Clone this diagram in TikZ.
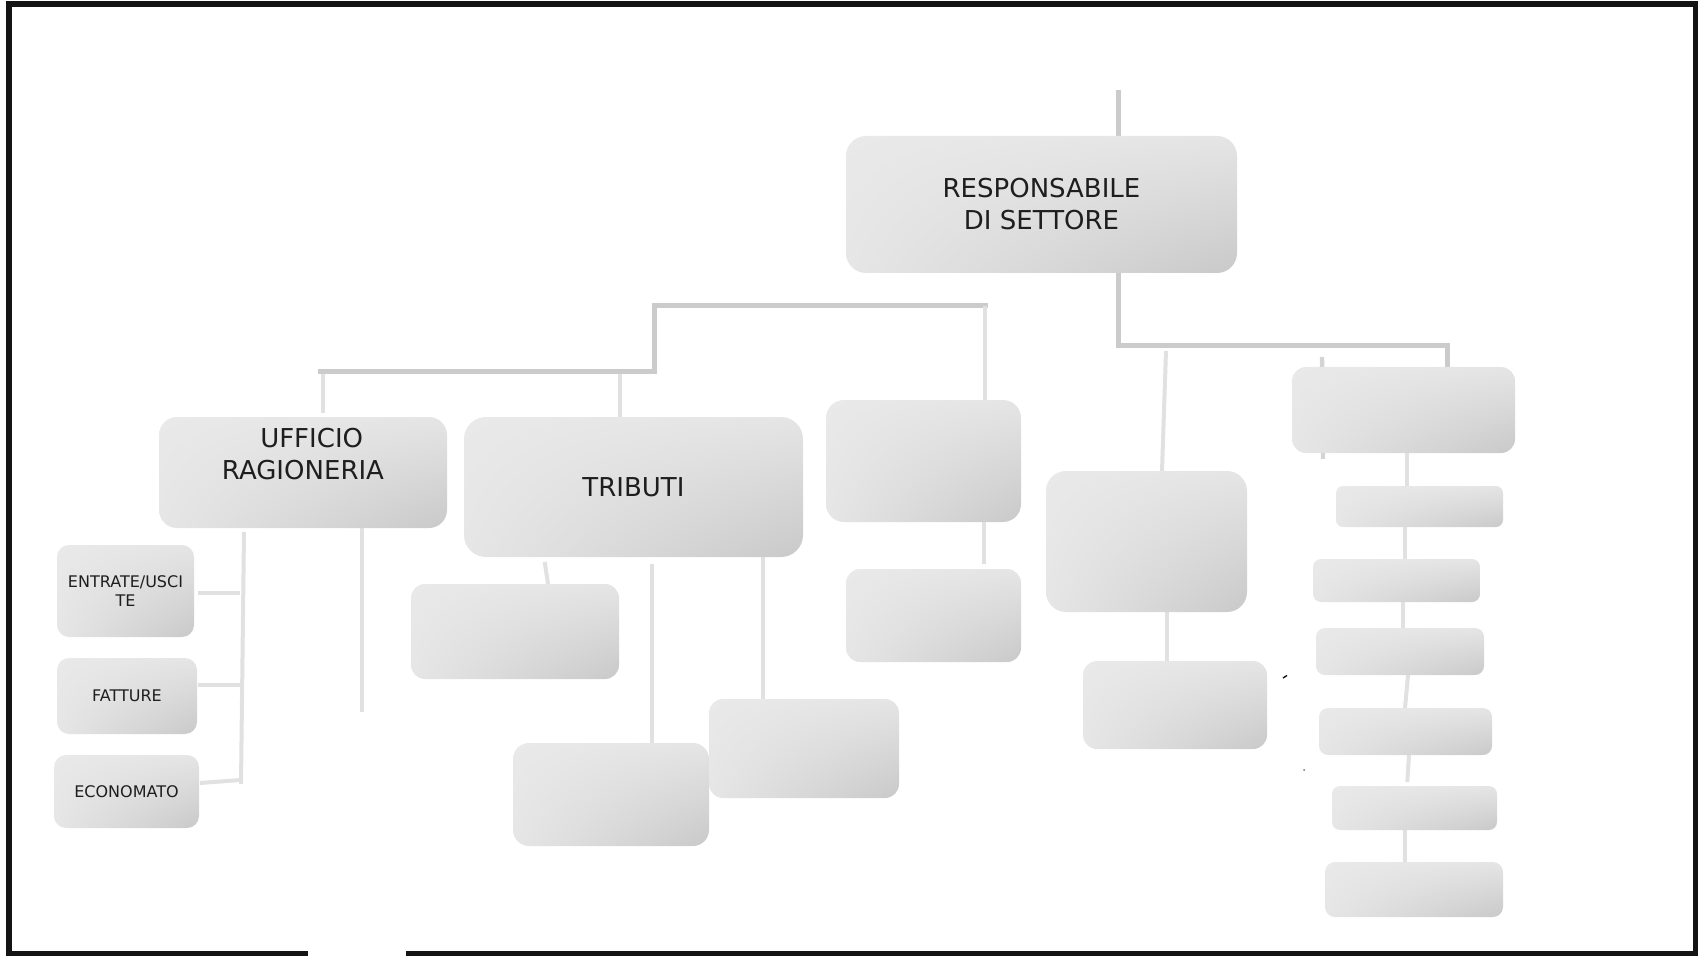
\documentclass[tikz,border=0pt]{standalone}
\usepackage{fontspec}
\setmainfont{DejaVu Sans}
\usetikzlibrary{shadings}

% palette
\definecolor{boxUL}{HTML}{E9E9E9}
\definecolor{boxUR}{HTML}{E5E5E5}
\definecolor{boxLL}{HTML}{E6E6E6}
\definecolor{boxLR}{HTML}{C9C9C9}
\definecolor{trunkgray}{HTML}{CBCBCB}
\definecolor{twiggray}{HTML}{E1E1E1}
\definecolor{seamgray}{HTML}{D4D4D4}
\definecolor{inkgray}{HTML}{1E1E1E}
\definecolor{framebk}{HTML}{141414}

\pgfdeclarelayer{links}
\pgfsetlayers{links,main}

\begin{document}
\begin{tikzpicture}[x=0.5pt, y=-0.5pt,
  panel/.style={shade, upper left=boxUL, upper right=boxUR,
    lower left=boxLL, lower right=boxLR, anchor=north west,
    inner sep=0pt, outer sep=0pt, rounded corners=#1,
    text=inkgray, align=center},
  sized/.style 2 args={minimum width=#1, minimum height=#2},
  big/.style={font=\fontsize{13}{16}\selectfont},
  small/.style={font=\fontsize{8}{9.4}\selectfont},
  trunk/.style={draw=trunkgray, line width=2.5pt},
  twig/.style={draw=twiggray, line width=2pt},
  seam/.style={draw=seamgray, line width=2.2pt},
  frame/.style={draw=framebk, line width=2.8pt},
  speckle/.style={draw=framebk, line width=0.7pt},
]
\useasboundingbox (0,0) rectangle (1698,957);

% ---------- outer frame, open at the bottom left ----------
\coordinate (fgapL) at (308,953.5);
\coordinate (fgapR) at (406,953.5);
\draw[frame] (fgapL) -- (8.7,953.5) -- (8.7,3.9) -- (1695.9,3.9)
  -- (1695.9,953.5) -- (fgapR);

% ---------- boxes ----------
\node[panel=10pt, sized={195.5pt}{68.5pt}, big] (resp) at (846,136) {RESPONSABILE\\DI SETTORE};
\node[panel=9pt, sized={144pt}{55.5pt}] (uff) at (159,417) {};
\node[big, text=inkgray, align=center, inner sep=0pt] (uffcap) at (303,454.5)
  {\hspace*{8.7pt}UFFICIO\\RAGIONERIA};
\node[panel=6pt, sized={68.5pt}{46pt}, small] (ent) at (57,545) {ENTRATE/USCI\\TE};
\node[panel=6pt, sized={70pt}{38pt}, small] (fat) at (57,658) {FATTURE};
\node[panel=6pt, sized={72.5pt}{36.5pt}, small] (eco) at (54,755) {ECONOMATO};
\node[panel=11pt, sized={169.5pt}{70pt}, big] (trib) at (464,417) {TRIBUTI};
\node[panel=7pt, sized={104pt}{47.5pt}] (t1) at (411,584) {};
\node[panel=8pt, sized={98pt}{51.5pt}] (t2) at (513,743) {};
\node[panel=7pt, sized={95pt}{49.5pt}] (t3) at (709,699) {};
\node[panel=9pt, sized={97.5pt}{61pt}] (b3) at (826,400) {};
\node[panel=7pt, sized={87.5pt}{46.5pt}] (b4) at (846,569) {};
\node[panel=10pt, sized={100.5pt}{70.5pt}] (b5) at (1046,471) {};
\node[panel=7pt, sized={92pt}{44pt}] (b6) at (1083,661) {};
\node[panel=7pt, sized={111.5pt}{43pt}] (r0) at (1292,367) {};
\node[panel=3.5pt, sized={83.5pt}{20.5pt}] (r1) at (1336,486) {};
\node[panel=4pt, sized={83.5pt}{21.5pt}] (r2) at (1313,559) {};
\node[panel=4.5pt, sized={84pt}{23.5pt}] (r3) at (1316,628) {};
\node[panel=4.5pt, sized={86.5pt}{23.5pt}] (r4) at (1319,708) {};
\node[panel=4pt, sized={82.5pt}{22pt}] (r5) at (1332,786) {};
\node[panel=5pt, sized={89pt}{27.5pt}] (r6) at (1325,862) {};

% ---------- connector points ----------
\coordinate (crown) at (1118,90);
\coordinate (rbend) at (1447,346);
\coordinate (lbA) at (988,306);
\coordinate (lbB) at (654,372);
\coordinate (lbC) at (318,372);
\coordinate (jU) at (323,374);
\coordinate (jT) at (620,374);
\coordinate (jB3) at (985,306);
\coordinate (cB34) at (984,0);
\coordinate (jB5) at (1166,351);
\coordinate (cB5) at (1162,0);
\coordinate (cB56) at (1167,0);
\coordinate (cT1a) at (544,0);
\coordinate (cT1b) at (548,0);
\coordinate (cT2) at (652,0);
\coordinate (cT3) at (763,0);
\coordinate (sTop) at (244,532);
\coordinate (sBot) at (241,784);
\coordinate (hEnt) at (240,593);
\coordinate (hFat) at (241,685);
\coordinate (hEcoL) at (200,783);
\coordinate (hEco) at (241,780);
\coordinate (uTail) at (362,712);
\coordinate (cR01) at (1407,0);
\coordinate (cR12) at (1405,0);
\coordinate (cR23) at (1403,0);
\coordinate (cR34a) at (1408,0);
\coordinate (cR34b) at (1405,0);
\coordinate (cR45a) at (1409,0);
\coordinate (cR45b) at (1407,0);
\coordinate (cR56) at (1405,0);
\coordinate (seamT) at (1322,357);
\coordinate (seamB) at (1323,459);
\coordinate (tickA) at (1283,678);
\coordinate (tickB) at (1287,675.5);
\coordinate (speck) at (1304,770);

% ---------- connectors, behind the boxes ----------
\begin{pgfonlayer}{links}
  % main trunk
  \draw[trunk] (crown) -- (crown |- resp.north);
  \draw[trunk] (resp.south -| crown) |- (rbend) -- (rbend |- r0.north);
  \draw[trunk] (lbA) -| (lbB) -- (lbC);
  % drops from the left branch
  \draw[twig, shorten >=2pt] (jU) -- (jU |- uff.north);
  \draw[twig] (jT) -- (jT |- trib.north);
  \draw[twig] (jB3) -- (jB3 |- b3.north);
  \draw[twig, shorten >=2.5pt] (cB34 |- b3.south) -- (cB34 |- b4.north);
  % middle column
  \draw[twig] (jB5) -- (cB5 |- b5.north);
  \draw[twig] (cB56 |- b5.south) -- (cB56 |- b6.north);
  % under TRIBUTI
  \draw[twig, shorten <=2.5pt] (cT1a |- trib.south) -- (cT1b |- t1.north);
  \draw[twig, shorten <=3.5pt] (cT2 |- trib.south) -- (cT2 |- t2.north);
  \draw[twig] (cT3 |- trib.south) -- (cT3 |- t3.north);
  % under UFFICIO RAGIONERIA
  \draw[twig] (sTop) -- (sBot);
  \draw[twig, shorten <=2pt] (ent.east |- hEnt) -- (hEnt);
  \draw[twig, shorten <=0.5pt] (fat.east |- hFat) -- (hFat);
  \draw[twig] (hEcoL) -- (hEco);
  \draw[twig] (uTail |- uff.south) -- (uTail);
  % right column
  \draw[seam] (seamT) -- (seamB);
  \draw[twig] (cR01 |- r0.south) -- (cR01 |- r1.north);
  \draw[twig] (cR12 |- r1.south) -- (cR12 |- r2.north);
  \draw[twig] (cR23 |- r2.south) -- (cR23 |- r3.north);
  \draw[twig] (cR34a |- r3.south) -- (cR34b |- r4.north);
  \draw[twig, shorten >=2pt] (cR45a |- r4.south) -- (cR45b |- r5.north);
  \draw[twig] (cR56 |- r5.south) -- (cR56 |- r6.north);
\end{pgfonlayer}

% stray pen marks
\draw[speckle] (tickA) -- (tickB);
\fill[framebk!60] (speck) circle (1);
\end{tikzpicture}
\end{document}
